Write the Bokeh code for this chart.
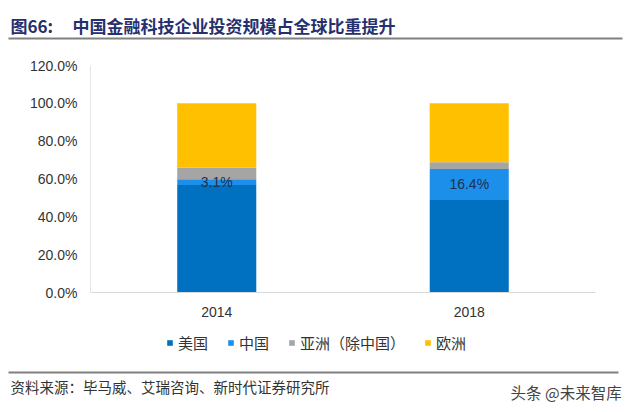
from bokeh.plotting import figure
from bokeh.layouts import column, row
from bokeh.models import (ColumnDataSource, FactorRange, Range1d, FixedTicker,
                          PrintfTickFormatter, Legend, LegendItem)
from bokeh.core.properties import value
from bokeh.embed import file_html
from bokeh.resources import INLINE

# ---- data ----
years = ["2014", "2018"]
us = [56.8, 48.9]
china = [3.1, 16.4]
asia_ex_china = [6.2, 3.6]
europe = [33.9, 31.1]
series_names = ["美国", "中国", "亚洲（除中国）", "欧洲"]
series_keys = ["us", "china", "asia", "europe"]
colors = ["#0070C0", "#1C8FEA", "#A5A5A5", "#FFC000"]
y_ticks = [0, 20, 40, 60, 80, 100, 120]
title_prefix = "图66:"
title_text = "中国金融科技企业投资规模占全球比重提升"
source_text = "资料来源：毕马威、艾瑞咨询、新时代证券研究所"
watermark_text = "头条 @未来智库"

CJK = "Noto Sans CJK SC"
LAT = "Liberation Sans"
W = 640
H_TOP, H_MAIN, H_BOT = 45, 280, 87


def blank_fig(h):
    f = figure(width=W, height=h, output_backend="svg", toolbar_location=None,
               x_range=Range1d(0, W), y_range=Range1d(h, 0),
               x_axis_type=None, y_axis_type=None, min_border=0)
    f.outline_line_color = None
    f.grid.grid_line_color = None
    f.border_fill_color = "white"
    return f


# ---- top: title + rule ----
pt = blank_fig(H_TOP)
pt.text(x=[10], y=[25], text=[title_prefix], text_font=value(CJK), text_font_size="17px",
        text_font_style="bold", text_color="#26306E", text_baseline="middle")
pt.text(x=[72], y=[25], text=[title_text], text_font=value(CJK), text_font_size="17px",
        text_font_style="bold", text_color="#26306E", text_baseline="middle")
pt.segment(x0=[8], y0=[38], x1=[622], y1=[38], line_color="#808080", line_width=2)

# ---- main chart ----
p = figure(width=W, height=H_MAIN, output_backend="svg", toolbar_location=None,
           x_range=FactorRange(factors=years, range_padding=0),
           y_range=Range1d(0, 120),
           min_border_left=90, min_border_right=45, min_border_top=20, min_border_bottom=33)
p.outline_line_color = None
p.background_fill_color = "white"
p.border_fill_color = "white"
p.xgrid.grid_line_color = None
p.ygrid.grid_line_color = None

src = ColumnDataSource(dict(year=years, us=us, china=china, asia=asia_ex_china, europe=europe))
p.vbar_stack(series_keys, x="year", width=0.313, color=colors, source=src, line_color=None)

lab_y = [u + c / 2 for u, c in zip(us, china)]
lab_txt = [f"{c:.1f}%" for c in china]
lsrc = ColumnDataSource(dict(year=years, y=lab_y, t=lab_txt))
p.text(x="year", y="y", text="t", source=lsrc, text_align="center", text_baseline="middle",
       text_font=value(LAT), text_font_size="14px", text_color="#1F3050")

p.yaxis.ticker = FixedTicker(ticks=y_ticks)
p.yaxis.formatter = PrintfTickFormatter(format="%.1f%%")
p.yaxis.major_tick_line_color = None
p.yaxis.minor_tick_line_color = None
p.yaxis.axis_line_color = "#E6E6E6"
p.yaxis.major_label_standoff = 7
p.yaxis.major_label_text_font = LAT
p.yaxis.major_label_text_font_size = "14px"
p.yaxis.major_label_text_color = "#333333"

p.xaxis.major_tick_line_color = None
p.xaxis.minor_tick_line_color = None
p.xaxis.axis_line_color = "#D9D9D9"
p.xaxis.major_label_standoff = 8
p.xaxis.major_label_text_font = LAT
p.xaxis.major_label_text_font_size = "14px"
p.xaxis.major_label_text_color = "#333333"

# ---- bottom: legend, rule, source ----
pb = blank_fig(H_BOT)
# legend-only helper renderers (zero-height, off-canvas)
swatches = [pb.vbar(x=[-1000], top=[0], bottom=[0], width=1, fill_color=c, line_color=None)
            for c in colors]
items = [LegendItem(label=n, renderers=[r]) for n, r in zip(series_names, swatches)]
legend = Legend(items=items, orientation="horizontal", location=(166, H_BOT - 28),
                glyph_width=7, glyph_height=7, label_standoff=5, spacing=19,
                padding=0, margin=0, border_line_color=None, background_fill_alpha=0,
                label_text_font=CJK, label_text_font_size="15px", label_text_color="#333333",
                label_height=20)
pb.add_layout(legend, "center")
pb.segment(x0=[8], y0=[47], x1=[618], y1=[47], line_color="#808080", line_width=2)
pb.text(x=[10], y=[61], text=[source_text], text_font=value(CJK), text_font_size="14.5px",
        text_color="#333333", text_baseline="middle")
pb.text(x=[510], y=[66], text=[watermark_text], text_font=value(CJK), text_font_size="15.5px",
        text_color="#444444", text_baseline="middle")

layout = column(row(pt), p, row(pb), spacing=0)
open("out.html", "w").write(file_html(layout, INLINE))
